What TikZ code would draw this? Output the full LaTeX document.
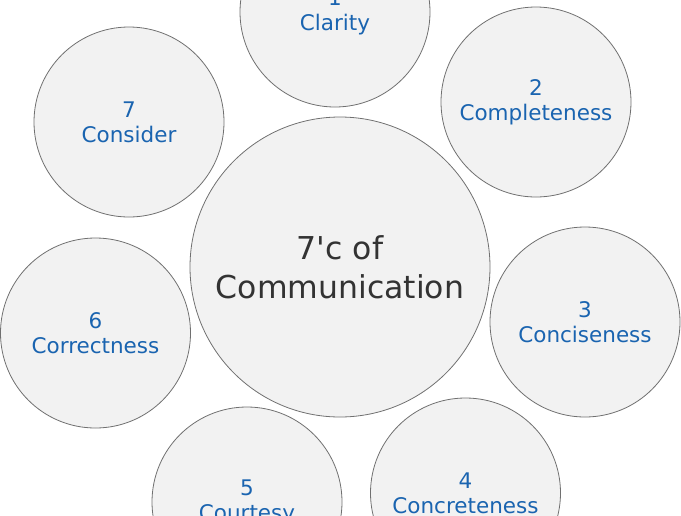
\documentclass[tikz,border=0pt]{standalone}
\usepackage{fontspec}
\setmainfont{DejaVu Sans}
\usepackage{xcolor}
\usetikzlibrary{positioning}
\definecolor{bubblefill}{HTML}{F2F2F2}
\definecolor{bubbleline}{HTML}{707070}
\definecolor{cblue}{HTML}{1A64B0}
\definecolor{hubtext}{HTML}{333333}

\begin{document}
\begin{tikzpicture}[
    x=1pt,y=-1pt,
    bubble/.style={draw=bubbleline,fill=bubblefill,circle,line width=0.8pt,inner sep=0pt,
        minimum size=190pt,align=center,text=cblue,font=\fontsize{21.5}{25}\selectfont},
    hub/.style={bubble,minimum size=300pt,text=hubtext,font=\fontsize{31.5}{39}\selectfont}
]

% --- Canvas ---
\useasboundingbox (0,0) rectangle (681,515);

% --- Centre ---
\node[hub] (comm) at (340,267) {7\textquotesingle c of\\Communication};

% --- The seven C's ---
\node[bubble] (clarity)      at (335,12)    {1\\Clarity};
\node[bubble] (completeness) at (536,102)   {2\\Completeness};
\node[bubble] (conciseness)  at (585,322)   {3\\Conciseness};
\node[bubble] (concreteness) at (465.5,493) {4\\Concreteness};
\node[bubble] (courtesy)     at (247,502)   {5\\Courtesy};
\node[bubble] (correctness)  at (95.5,333)  {6\\Correctness};
\node[bubble] (consider)     at (129,122)   {7\\Consider};
\end{tikzpicture}
\end{document}
